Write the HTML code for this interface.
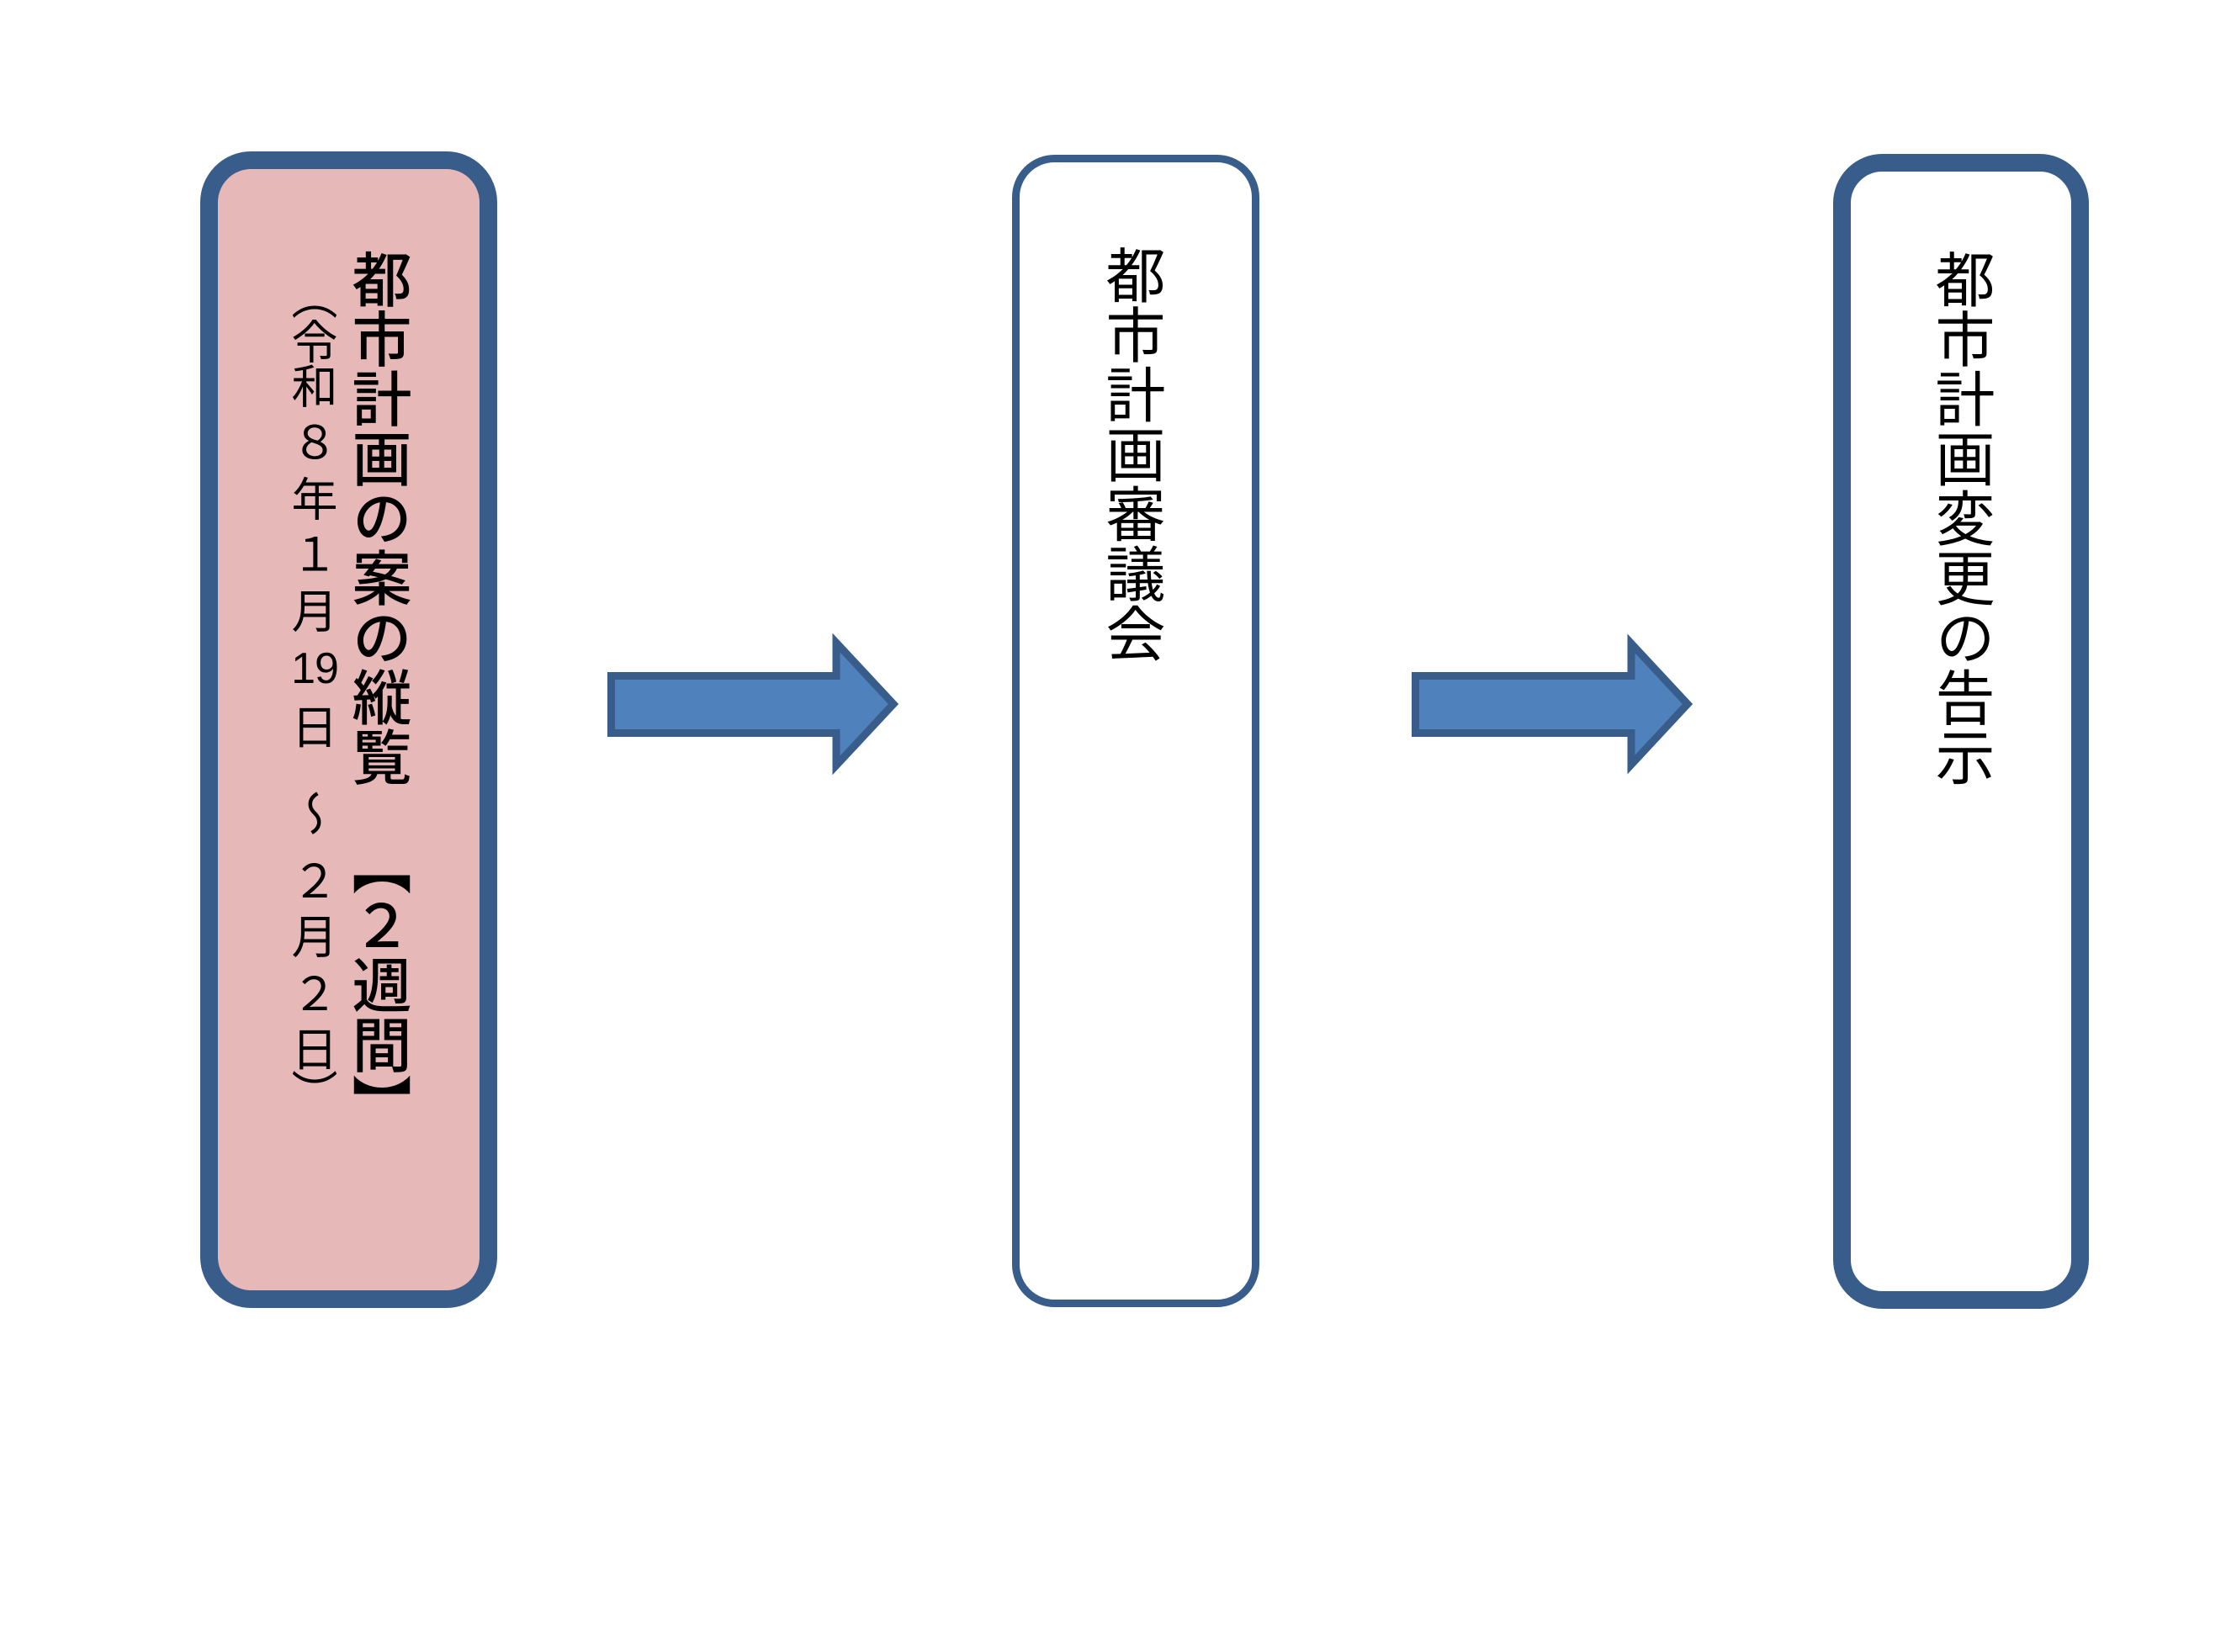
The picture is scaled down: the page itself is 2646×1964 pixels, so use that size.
<!DOCTYPE html>
<html lang="ja">
<head>
<meta charset="utf-8">
<style>
  html, body { margin:0; padding:0; background:#ffffff; }
  body { width:2646px; height:1964px; position:relative; overflow:hidden;
         font-family:"Liberation Sans","Noto Sans CJK JP",sans-serif; color:#000; }
  svg.bg { position:absolute; left:0; top:0; }
  .col { position:absolute; writing-mode:vertical-rl; -webkit-writing-mode:vertical-rl;
         font-family:"Noto Sans CJK JP","Liberation Sans",sans-serif;
         font-size:71px; line-height:71px; width:71px; white-space:nowrap; }
  .sc { position:absolute; left:344px; width:60px; height:60px;
        writing-mode:vertical-rl; -webkit-writing-mode:vertical-rl;
        font-family:"Noto Sans CJK JP","Liberation Sans",sans-serif;
        font-size:55px; line-height:60px; text-align:center; white-space:nowrap; }
  .sh { position:absolute; left:334px; width:80px; height:60px;
        font-family:"Liberation Sans","Noto Sans CJK JP",sans-serif;
        font-size:52px; line-height:60px; text-align:center; white-space:nowrap; letter-spacing:-1px; }
</style>
</head>
<body>
<svg class="bg" width="2646" height="1964" viewBox="0 0 2646 1964" xmlns="http://www.w3.org/2000/svg">
  <rect x="248.5" y="190.5" width="332" height="1354" rx="50" ry="50"
        fill="#E6B8B7" stroke="#385D8A" stroke-width="21"/>
  <rect x="1207.5" y="188.5" width="285" height="1361" rx="46" ry="46"
        fill="#FFFFFF" stroke="#385D8A" stroke-width="9"/>
  <rect x="2189.5" y="193.5" width="283" height="1352" rx="48" ry="48"
        fill="#FFFFFF" stroke="#385D8A" stroke-width="21"/>
  <polygon points="726.5,803.5 994,803.5 994,764 1062,837 994,910 994,871.5 726.5,871.5"
           fill="#4F81BD" stroke="#385D8A" stroke-width="9" stroke-linejoin="miter"/>
  <polygon points="1682.5,803.5 1939,803.5 1939,765 2006,837 1939,909 1939,871.5 1682.5,871.5"
           fill="#4F81BD" stroke="#385D8A" stroke-width="9" stroke-linejoin="miter"/>
</svg>

<div class="col" style="left:418px; top:296px; font-weight:500;">都市計画の案の縦覧</div>
<div class="col" style="left:418px; top:993px; font-weight:500;">【２週間】</div>

<div class="sc" style="top:322px;">（</div>
<div class="sc" style="top:375px;">令</div>
<div class="sc" style="top:428px;">和</div>
<div class="sc" style="top:495px;">８</div>
<div class="sc" style="top:562px;">年</div>
<div class="sc" style="top:628px;">１</div>
<div class="sc" style="top:695px;">月</div>
<div class="sh" style="top:765px;">19</div>
<div class="sc" style="top:833px;">日</div>
<div class="sc" style="top:936px;">～</div>
<div class="sc" style="top:1016px;">２</div>
<div class="sc" style="top:1082px;">月</div>
<div class="sc" style="top:1150px;">２</div>
<div class="sc" style="top:1216px;">日</div>
<div class="sc" style="top:1268px;">）</div>

<div class="col" style="left:1314px; top:291px;">都市計画審議会</div>

<div class="col" style="left:2300px; top:296px;">都市計画変更の告示</div>
</body>
</html>
